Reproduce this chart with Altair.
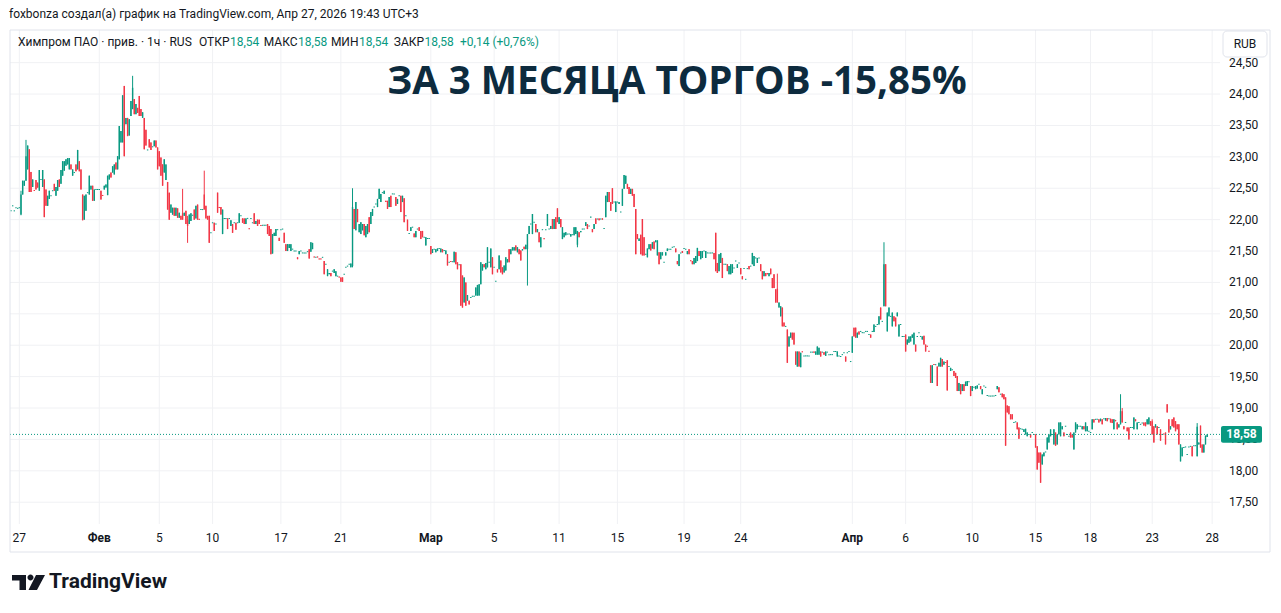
import altair as alt
import pandas as pd

# ---- candles: (open, close) or (open, high, low, close) ----
seg_jan_feb = [
(22.14,22.14),(22.22,22.22),(22.14,22.14),(22.19,22.19),(22.18,22.18),(22.19,22.19),
(22.08,22.46,22.07,22.40),(22.40,22.62),(22.54,22.62),(22.62,23.27,22.62,23.01),(22.80,23.18),(23.12,22.44),
(22.76,22.44),(22.52,22.64),(22.47,22.46),(22.63,22.48),(22.59,22.51),(22.46,22.79),
(22.64,22.64),(22.52,22.79),(22.64,22.04),(22.48,22.22),(22.22,22.38),(22.33,22.46),
(22.38,22.38),(22.46,22.46),(22.57,22.46),(22.38,22.52),(22.46,22.63),(22.64,22.52),
(22.57,22.79),(22.70,22.93),(22.78,22.93),(22.86,22.96),(22.88,22.98),(22.80,22.98),
(22.88,22.80),(22.70,22.80),(22.75,22.75),(22.88,22.77),(22.80,23.11),(22.93,22.77),
(22.80,22.48),(22.40,21.99),(22.00,22.38),(22.14,22.40),(22.43,22.43),(22.40,22.70),
(22.48,22.54),(22.54,22.30),(22.30,22.48),(22.48,22.48),(22.48,22.48),(22.48,22.48),
(22.46,22.32),(22.39,22.38),(22.48,22.54),(22.51,22.56),(22.39,22.70),(22.64,22.72),
(22.75,22.67),(22.75,22.85),(22.72,22.88),(22.91,22.80),(22.80,23.01),(22.96,23.49),
(23.23,23.41),(23.23,23.98),(24.13,23.01),(23.52,23.62),(23.62,23.33),(23.34,23.60),
(23.65,23.89),(23.76,24.29,23.76,24.10),(23.92,23.68),(23.68,23.84),(23.78,23.70),(23.97,23.65),
(23.76,23.65),(23.62,23.71),(23.62,23.12),(23.43,23.18),(23.11,23.11),(23.28,23.15),
(23.23,23.11),(23.16,23.16),(23.17,23.26),(23.26,23.15),(23.15,22.80),(23.09,22.85),
(22.99,22.70),(22.88,22.54),(22.75,22.96),(22.63,22.88),(22.60,22.16),(22.43,22.00),
(22.11,22.24),(22.08,22.19),(22.19,22.06),(22.06,22.19),(22.18,22.03),(22.03,22.11),
(22.06,22.00),(22.10,22.49,22.00,22.00),(22.06,22.11),(22.14,21.93),(22.00,22.06,21.63,21.90),(21.93,22.08),
(21.98,22.10),(22.07,22.07),(22.16,22.00),(22.02,22.22),(22.24,22.00),(22.01,22.00),
(22.16,22.16),(22.16,22.16),(22.40,22.78,22.16,22.16),(22.22,22.02),(22.06,22.00),(22.06,21.63),
(21.79,21.79),(21.95,21.95),(21.95,21.82),(21.93,21.93),(22.43,22.11),(22.20,22.19),
(22.20,22.08),(21.77,22.16),(22.02,22.02),(22.02,22.02),(22.02,21.85),(22.02,22.02),
(21.90,21.99),(21.93,21.79),(21.95,21.95),(21.95,21.84),(21.95,21.95),(21.95,22.10),
(22.06,22.06),(22.02,21.95),(22.02,21.93),(21.93,22.02),(22.02,22.02),(21.86,21.85),
(22.02,22.02),(21.95,21.95),(22.10,21.93),(21.93,21.98),(22.00,21.90),(22.00,21.93),
(21.91,21.90),(21.91,21.91),(21.91,21.91),(21.91,21.91),(21.93,21.77),(21.90,21.74),
(21.85,21.45),(21.46,21.77),(21.74,21.79),(21.74,21.85),(21.84,21.84),(21.71,21.66),
(21.84,21.84),(21.85,21.85),(21.79,21.63),(21.61,21.50),(21.50,21.61),(21.55,21.61),
(21.50,21.61),(21.53,21.53),(21.50,21.50),(21.50,21.50),(21.40,21.37),(21.45,21.50),
(21.50,21.50),(21.47,21.47),(21.47,21.47),(21.47,21.47),(21.49,21.49),(21.53,21.38),
(21.49,21.64),(21.53,21.63),(21.41,21.40),(21.40,21.40),(21.41,21.40),(21.38,21.37),
(21.38,21.37),(21.40,21.40),(21.34,21.13),(21.29,21.29),(21.10,21.21),(21.13,21.15),
(21.15,21.10),(21.18,21.18),(21.15,21.21),(21.10,21.18),(21.10,21.10),(21.09,21.08),
(21.08,21.01),(21.08,21.01),(21.13,21.13),(21.24,21.24),(21.26,21.26),(21.29,21.29),
(21.24,21.30),
]

seg_feb_mar = [
(21.26,22.50,21.24,22.20),(22.17,21.85),(21.83,22.28),(22.17,21.96),(21.80,21.93),(21.77,21.96),
(21.83,21.93),(21.93,21.75),(21.72,21.90),(21.77,21.93),(22.04,21.80),(21.93,22.12),
(22.06,22.17),(22.20,22.20),(22.25,22.25),(22.20,22.33),(22.33,22.49),(22.28,22.41),
(22.43,22.43),(22.41,22.46),(22.30,22.28),(22.30,22.17),(22.20,22.36),(22.38,22.20),
(22.41,22.41),(22.41,22.41),(22.36,22.22),(22.25,22.33),(22.38,22.38),(22.38,22.12),
(22.28,22.38),(22.34,21.96),(22.06,22.06),(22.00,21.82),(21.78,21.78),(21.82,21.88),
(21.88,21.88),(21.78,21.72),(21.72,21.82),(21.85,21.85),(21.88,21.82),(21.82,21.69),
(21.82,21.72),(21.72,21.72),(21.59,21.72),(21.70,21.70),(21.70,21.70),(21.58,21.45),
(21.47,21.53),(21.53,21.53),(21.48,21.53),(21.50,21.54),(21.54,21.54),(21.48,21.54),
(21.53,21.48),(21.51,21.51),(21.45,21.51),(21.45,21.27),(21.32,21.32),(21.34,21.33),
(21.33,21.33),(21.32,21.49),(21.48,21.29),(21.32,21.21),(21.28,21.28),(21.29,20.63),
(21.11,20.60),(20.68,21.08),(21.00,20.63),(20.71,20.80),(20.71,20.65),(20.76,20.76),
(20.78,20.78),(20.78,20.78),(20.79,20.92),(20.79,20.96),(20.79,20.97),(20.97,21.32),
(21.19,21.29),(21.29,21.24),(21.21,21.31),(21.24,21.56),(21.32,21.32),(21.24,21.54),
(21.40,21.13),(21.24,21.24),(21.02,21.02),(21.21,21.16),(21.21,21.43),(21.35,21.16),
(21.24,21.13),(21.16,21.27),(21.19,21.40),(21.32,21.37),(21.53,21.32),(21.45,21.53),
(21.51,21.56),(21.51,21.56),(21.59,21.51),(21.48,21.56),(21.53,21.45),(21.51,21.35),
(21.51,21.53),(21.57,21.53),(21.53,21.60),(21.53,21.77,20.95,21.77),(21.77,21.90),(21.93,21.93),
(21.77,22.09),(21.96,21.96),(21.93,21.80),(21.80,21.85),(21.80,21.64),(21.56,21.72),
(21.84,21.84),(21.70,21.69),(21.84,21.84),(21.90,22.09),(21.85,21.85),(21.85,21.90),
(22.01,21.85),(21.85,22.01),(22.04,21.85),(22.18,21.96),(21.93,22.04),(22.01,21.88),
(21.69,21.88),(21.72,21.79),(21.75,21.80),(21.77,21.77),(21.77,21.77),(21.73,21.77),
(21.76,21.76),(21.75,21.88),(21.77,21.88),(21.60,21.82,21.56,21.82),(21.80,21.72),(21.80,21.82),
(21.85,21.85),(21.85,21.85),(21.90,21.96),(21.93,21.85),(21.90,21.90),(22.04,22.04),
(21.85,21.80),(21.85,21.93),(22.02,21.93),(22.01,22.01),(22.02,21.99),(22.01,22.01),
(22.02,22.00),(21.86,21.86),(22.04,22.38),(22.28,22.44),(22.44,22.28),(22.28,22.14),
(22.50,22.25),(22.28,22.28),(22.12,22.29),(22.28,22.28),(22.25,22.28),(22.12,22.12),
(22.22,22.49),(22.49,22.71),(22.57,22.70),(22.57,22.49),(22.52,22.41),(22.41,22.49),
(22.49,22.38),(22.41,22.20),(22.17,21.45),(21.77,21.69),(21.66,21.70),(21.76,21.45),
(22.01,21.43),(21.72,21.43),(21.45,21.45),(21.40,21.54),(21.53,21.61),(21.61,21.51),
(21.54,21.64),(21.65,21.53),(21.64,21.67),(21.43,21.67),(21.48,21.29),(21.37,21.48),
(21.43,21.48),(21.32,21.32),(21.43,21.48),(21.50,21.54),(21.53,21.53),(21.53,21.53),
(21.56,21.56),(21.57,21.57),(21.54,21.48),
]

seg_mar_apr = [
(21.34,21.29),(21.26,21.45),(21.47,21.47),(21.50,21.47),(21.54,21.54),(21.53,21.53),
(21.45,21.50),(21.53,21.45),(21.35,21.34),(21.34,21.29),(21.29,21.39),(21.31,21.42),
(21.34,21.55),(21.50,21.42),(21.37,21.50),(21.39,21.50),(21.50,21.50),(21.39,21.50),
(21.47,21.47),(21.47,21.47),(21.47,21.47),(21.47,21.47),(21.47,21.37),(21.79,21.18),
(21.31,21.15),(21.18,21.45),(21.31,21.47),(21.39,21.07),(21.29,21.29),(21.29,21.29),
(21.29,21.18),(21.13,21.26),(21.13,21.29),(21.15,21.29),(21.23,21.23),(21.34,21.34),
(21.23,21.29),(21.31,21.31),(21.23,21.13),(21.10,21.05),(21.22,21.22),(21.05,21.05),
(21.22,21.22),(21.26,21.21),(21.26,21.26),(21.29,21.47),(21.26,21.42),(21.39,21.39),
(21.31,21.39),(21.39,21.39),(21.29,21.18),(21.18,21.05),(21.10,21.18),(21.15,21.10),
(21.15,21.13),(21.10,21.15),(21.22,21.13),(21.07,20.91),(21.13,20.91),(20.89,20.68),
(20.90,21.14,20.68,20.68),(20.60,20.68),(20.46,20.62),(20.60,20.30),(20.36,20.30),(20.30,20.30),
(20.25,19.72),(19.98,20.14),(20.12,20.20),(20.20,20.09),(20.20,20.01),(19.90,19.69),
(19.66,19.90),(19.90,19.66),(19.65,19.88),(19.90,19.89),(19.83,19.83),(19.83,19.83),
(19.83,19.83),(19.83,19.83),(19.89,19.89),(19.89,19.89),(19.90,19.88),(19.85,19.90),
(19.85,19.98),(19.85,19.96),(19.90,19.82),(19.89,19.89),(19.89,19.85),(19.83,19.90),
(19.89,19.89),(19.85,19.85),(19.85,19.85),(19.85,19.85),(19.90,19.90),(19.90,19.90),
(19.82,19.90),(19.83,19.83),(19.82,19.82),(19.85,19.85),(19.88,19.88),(19.82,19.74),
(19.88,19.88),(19.90,19.90),(19.74,19.74),(19.88,20.14),(20.28,20.14),(20.28,20.12),
(20.12,20.20),(20.22,20.17),(20.22,20.22),(20.20,20.20),(20.20,20.20),(20.22,20.22),
(20.22,20.22),(20.17,20.17),(20.17,20.12),(20.22,20.22),(20.21,20.33),(20.30,20.30),
(20.33,20.33),(20.33,20.46),(20.60,20.41),(20.38,20.38),(20.62,21.64,20.62,21.29),(21.29,20.62),
(20.22,20.52),(20.46,20.60),(20.46,20.46),(20.30,20.52),(20.46,20.38),(20.44,20.30),
(20.46,20.52),(20.14,20.33),(20.33,20.33),(20.14,20.14),(20.14,20.14),(20.17,19.90),
(20.01,20.09),(20.04,20.14),(20.06,20.14),(20.12,20.17),(20.01,20.20),(20.01,19.90),
(20.14,20.14),(20.20,20.20),(20.14,20.14),(20.09,20.14),(20.15,20.01),(20.01,19.90),
(19.99,19.98),(19.91,19.90),(19.68,19.40),(19.40,19.68),(19.70,19.69),(19.69,19.69),
(19.66,19.35),(19.66,19.72),(19.66,19.80),(19.78,19.66),(19.69,19.74),(19.73,19.72),
(19.76,19.28),(19.66,19.66),(19.59,19.64),(19.61,19.61),(19.59,19.51),(19.56,19.48),
(19.51,19.27),
]

seg_apr = [
(19.27,19.40),(19.38,19.22),(19.27,19.38),(19.38,19.27),(19.35,19.42),(19.35,19.43),
(19.42,19.42),(19.35,19.19),(19.27,19.35),(19.33,19.33),(19.30,19.35),(19.31,19.36),
(19.38,19.38),(19.35,19.30),(19.22,19.30),(19.35,19.35),(19.33,19.33),(19.20,19.20),
(19.19,19.19),(19.19,19.19),(19.19,19.19),(19.19,19.19),(19.20,19.20),(19.30,19.35),
(19.33,19.25),(19.22,19.22),(19.23,19.17),(19.22,19.14),(19.17,18.40),(19.04,18.93),
(19.03,18.90),(18.90,18.82),(18.90,18.82),(18.77,18.77),(18.78,18.78),(18.77,18.66),
(18.69,18.51),(18.67,18.67),(18.66,18.66),(18.62,18.66),(18.58,18.67),(18.55,18.61),
(18.58,18.58),(18.58,18.53),(18.61,18.61),(18.58,18.58),(18.58,18.37),(18.39,18.02),
(18.29,18.13),(18.29,17.81),(18.10,18.26),(18.23,18.29),(18.30,18.30),(18.34,18.53),
(18.45,18.58),(18.55,18.66),(18.58,18.58),(18.42,18.66),(18.61,18.40),(18.42,18.58),
(18.58,18.77),(18.55,18.77),(18.66,18.71),(18.61,18.55),(18.71,18.71),(18.58,18.58),
(18.55,18.55),(18.61,18.53),(18.58,18.53),(18.34,18.61),(18.61,18.77),(18.66,18.74),
(18.71,18.71),(18.71,18.71),(18.66,18.71),(18.71,18.66),(18.63,18.77),(18.63,18.71),
(18.63,18.63),(18.61,18.61),(18.66,18.82),(18.82,18.77),(18.82,18.82),(18.82,18.82),
(18.82,18.77),(18.79,18.83),(18.82,18.74),(18.83,18.83),(18.80,18.84),(18.84,18.79),
(18.83,18.83),(18.83,18.77),(18.82,18.76),(18.66,18.82),(18.81,18.79),(18.77,18.66),
(18.69,18.74),(18.74,19.22,18.74,18.95),(18.95,19.00,18.77,18.77),(18.71,18.66),(18.77,18.77),(18.69,18.63),
(18.69,18.50),(18.69,18.69),(18.69,18.69),(18.66,18.85),(18.82,18.79),(18.66,18.77),
(18.77,18.77),(18.74,18.74),(18.76,18.76),(18.77,18.72),(18.77,18.71),(18.74,18.82),
(18.74,18.85),(18.79,18.72),(18.79,18.82,18.58,18.58),(18.71,18.45),(18.69,18.74),(18.71,18.58),
(18.69,18.69),(18.66,18.48),(18.58,18.58),(18.59,18.58),(18.61,18.42),(19.06,18.93),
(18.82,18.61),(18.66,18.71),(18.82,18.71),(18.85,18.69),(18.79,18.63),(18.74,18.66),
(18.74,18.42),(18.15,18.42),(18.23,18.37),(18.37,18.37),(18.38,18.38),(18.26,18.26),
(18.38,18.38),(18.39,18.39),(18.39,18.23),(18.40,18.40),(18.40,18.40),(18.23,18.76,18.23,18.70),
(18.42,18.45),(18.72,18.37),(18.42,18.29),(18.29,18.42),(18.42,18.56),(18.54,18.58),
]

# x-axis: candle index where each date label sits
tick_index = [5, 53, 89, 121, 162, 198, 252, 290, 329, 364, 404, 438, 505, 537, 577, 615, 648, 685, 721]
tick_label = ["27", "Фев", "5", "10", "17", "21", "Мар", "5", "11", "15", "19", "24",
              "Апр", "6", "10", "15", "18", "23", "28"]
month_names = ["Фев", "Мар", "Апр"]
price_ticks = [17.5, 18.0, 18.5, 19.0, 19.5, 20.0, 20.5, 21.0, 21.5, 22.0, 22.5, 23.0, 23.5, 24.0, 24.5]

title_text = "ЗА 3 МЕСЯЦА ТОРГОВ -15,85%"
header_text = "foxbonza создал(а) график на TradingView.com, Апр 27, 2026 19:43 UTC+3"
legend_name = "Химпром ПАО · прив. · 1ч · RUS"
legend_ohlc = [("ОТКР", "18,54"), ("МАКС", "18,58"), ("МИН", "18,54"), ("ЗАКР", "18,58")]
legend_change = "+0,14 (+0,76%)"

GREEN = "#089981"
RED = "#F23645"
TXT = "#131722"
GRID = "#f0f1f4"
FONT = "Roboto"

# ---- build table ----
candles = seg_jan_feb + seg_feb_mar + seg_mar_apr + seg_apr
rows = []
for i, c in enumerate(candles):
    if len(c) == 2:
        o, cl = c
        h, l = max(o, cl), min(o, cl)
    else:
        o, h, l, cl = c
    lo, hi = min(o, cl), max(o, cl)
    if hi - lo < 0.016:
        mid = (hi + lo) / 2
        lo, hi = mid - 0.008, mid + 0.008
    rows.append(dict(i=i, open=o, high=h, low=l, close=cl, blo=lo, bhi=hi,
                     dir="up" if cl >= o else "down"))
df = pd.DataFrame(rows)
n = len(df)
last_close = candles[-1][-1]

W, H = 1210, 494
xscale = alt.Scale(domain=[-0.6, n - 1 + 7.7], nice=False, zero=False)
yscale = alt.Scale(domain=[17.153, 25.02], nice=False, zero=False)
col = alt.Color("dir:N", scale=alt.Scale(domain=["up", "down"], range=[GREEN, RED]), legend=None)

# horizontal grid + right price labels
yt_df = pd.DataFrame({"p": price_ticks,
                      "lab": [f"{p:.2f}".replace(".", ",") for p in price_ticks]})
hgrid = alt.Chart(yt_df).mark_rule(color=GRID, strokeWidth=1).encode(
    y=alt.Y("p:Q", scale=yscale, axis=None), x=alt.value(0), x2=alt.value(W))
ylabels = alt.Chart(yt_df).mark_text(font=FONT, fontSize=12, color=TXT, align="left",
                                     baseline="middle").encode(
    y=alt.Y("p:Q", scale=yscale, axis=None), x=alt.value(1219), text="lab:N")

base = alt.Chart(df)
wicks = base.mark_rule(strokeWidth=1).encode(
    x=alt.X("i:Q", scale=xscale, axis=None),
    y=alt.Y("high:Q", scale=yscale, axis=None),
    y2="low:Q",
    color=col,
)
bodies = base.mark_rule(strokeWidth=1.4).encode(
    x=alt.X("i:Q", scale=xscale, axis=None),
    y=alt.Y("bhi:Q", scale=yscale, axis=None),
    y2="blo:Q",
    color=col,
)

ticks_df = pd.DataFrame({"idx": tick_index, "lab": tick_label,
                         "month": [t in month_names for t in tick_label]})
vgrid = alt.Chart(ticks_df).mark_rule(color=GRID, strokeWidth=1).encode(
    x=alt.X("idx:Q", scale=xscale, axis=None), y=alt.value(0), y2=alt.value(H))
xlab_day = alt.Chart(ticks_df).transform_filter("!datum.month").mark_text(
    font=FONT, fontSize=12, color=TXT).encode(
    x=alt.X("idx:Q", scale=xscale, axis=None), y=alt.value(508), text="lab:N")
xlab_mon = alt.Chart(ticks_df).transform_filter("datum.month").mark_text(
    font=FONT, fontSize=12, color=TXT, fontWeight="bold").encode(
    x=alt.X("idx:Q", scale=xscale, axis=None), y=alt.value(508), text="lab:N")

last_df = pd.DataFrame({"p": [last_close], "top": [last_close + 0.135],
                        "bot": [last_close - 0.135],
                        "lbl": [f"{last_close:.2f}".replace(".", ",")]})
pline = alt.Chart(last_df).mark_rule(color=GREEN, strokeDash=[1, 2], strokeWidth=1).encode(
    y=alt.Y("p:Q", scale=yscale, axis=None), x=alt.value(0), x2=alt.value(W))
ptag = alt.Chart(last_df).mark_rect(color=GREEN, cornerRadius=2).encode(
    y=alt.Y("top:Q", scale=yscale, axis=None), y2="bot:Q",
    x=alt.value(1211), x2=alt.value(1252))
ptext = alt.Chart(last_df).mark_text(color="white", font=FONT, fontSize=12, fontWeight="bold").encode(
    y=alt.Y("p:Q", scale=yscale, axis=None), x=alt.value(1231.5), text="lbl:N")

one = pd.DataFrame({"k": [0]})

def txt(text, x, y, size=12, color=TXT, weight="normal", align="left", font=FONT):
    return alt.Chart(one).mark_text(text=text, fontSize=size, color=color, fontWeight=weight,
                                    align=align, baseline="middle", font=font).encode(
        x=alt.value(x), y=alt.value(y))

frame = alt.Chart(one).mark_rect(fillOpacity=0, stroke="#e0e3eb", strokeWidth=1).encode(
    x=alt.value(0), x2=alt.value(1260), y=alt.value(0), y2=alt.value(522))
rub_box = alt.Chart(one).mark_rect(fill="white", stroke="#e0e3eb", strokeWidth=1, cornerRadius=4).encode(
    x=alt.value(1213), x2=alt.value(1257), y=alt.value(1), y2=alt.value(27))
rub_txt = txt("RUB", 1235, 14, align="center")

title = txt(title_text, 667, 52, size=38.5, color="#0d2b3e", weight="bold", align="center",
            font="Open Sans")
header = txt(header_text, -1, -16, size=12)

legend_layers = [txt(legend_name, 8, 12, size=12)]
value_x = [220, 288, 349, 414.5]
for (lab, val), vx in zip(legend_ohlc, value_x):
    legend_layers.append(txt(lab, vx - 0.5, 12, size=12, align="right"))
    legend_layers.append(txt(val, vx, 12, size=12, color=GREEN))
legend_layers.append(txt(legend_change, 450, 12, size=12, color=GREEN))

logo_path = ("M-1,-0.455 L-0.152,-0.455 L-0.152,0.455 L-0.545,0.455 L-0.545,-0.121 L-1,-0.121 Z "
             "M-0.061,-0.303 A0.182,0.182 0 1,0 0.303,-0.303 A0.182,0.182 0 1,0 -0.061,-0.303 Z "
             "M0.455,-0.455 L1,-0.455 L0.515,0.455 L0,0.455 Z")
logo_icon = alt.Chart(one).mark_point(shape=logo_path, filled=True, size=1089, color=TXT,
                                      opacity=1).encode(x=alt.value(18.5), y=alt.value(552.5))
logo_text = txt("TradingView", 39, 552, size=21, weight="bold")

chart = alt.layer(
    hgrid, vgrid, wicks, bodies, pline, frame, ylabels, ptag, ptext, rub_box, rub_txt,
    title, header, *legend_layers, xlab_day, xlab_mon, logo_icon, logo_text,
).properties(
    width=W, height=H,
    autosize=alt.AutoSizeParams(type="none"),
    padding={"left": 2, "top": 22, "right": 52, "bottom": 76},
    background="white",
).configure_view(stroke=None)

chart.save("out.html", embed_options={"renderer": "svg", "actions": False})
